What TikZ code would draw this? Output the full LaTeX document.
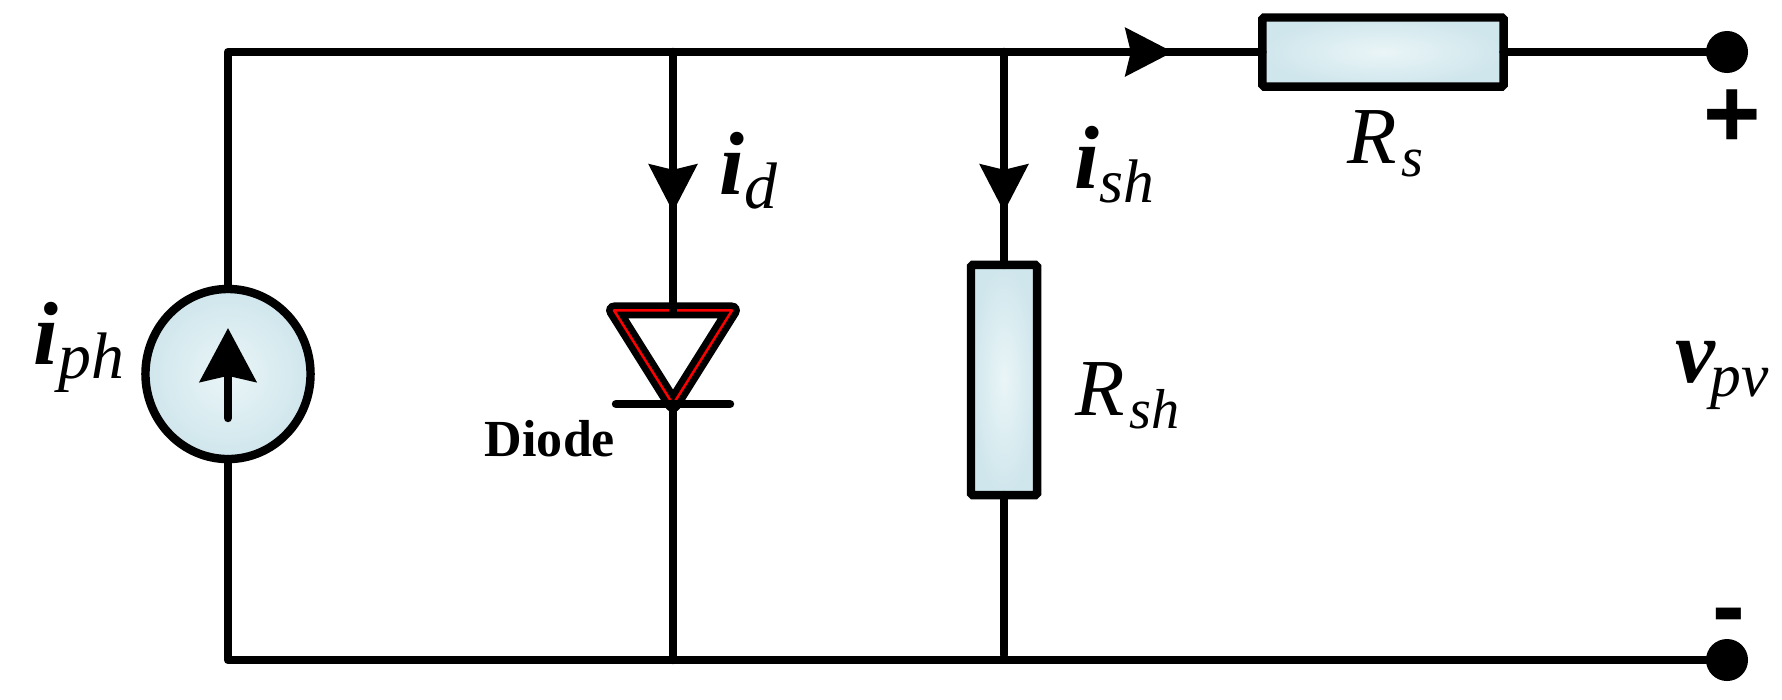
\documentclass[tikz,border=0pt]{standalone}
\usepackage{fontspec}
\setmainfont{Liberation Serif}
\newfontfamily\signfont{Liberation Sans}
\usetikzlibrary{arrows.meta, positioning, shapes.geometric}

\definecolor{cellin}{HTML}{EAF5F7}
\definecolor{cellout}{HTML}{CFE6EC}

\newcommand{\ivar}[3][18]{{\fontsize{25.5}{28}\selectfont\bfseries\itshape #2}\raisebox{-4pt}{\fontsize{#1}{20}\selectfont\itshape #3}}
\newcommand{\rvar}[2]{{\fontsize{23}{26}\selectfont\itshape #1}\kern1.2pt\raisebox{-3.7pt}{\fontsize{16}{20}\selectfont\itshape #2}}

\begin{document}
\begin{tikzpicture}[
  x=0.01cm, y=-0.01cm,
  wire/.style={line width=2.4pt, line cap=round, line join=round},
  arrowW/.style={wire, -{Stealth[inset=1.5pt, length=13.5pt, width=13.6pt]}},
  res/.style={draw, line width=2.4pt, rounded corners=0.5pt, inner sep=0pt, outer sep=0pt,
    inner color=cellin, outer color=cellout},
  dev/.style={draw, ellipse, line width=2.4pt, minimum width=1.65cm, minimum height=1.70cm,
    inner sep=0pt, outer sep=0pt, inner color=cellin, outer color=cellout},
  term/.style={circle, fill=black, minimum size=0.42cm, inner sep=0pt, outer sep=0pt},
  val/.style={anchor=base west, inner sep=0pt}
]
\useasboundingbox (0,0) rectangle (1782,699);

% Corners and junctions
\coordinate (tl) at (228,52);
\coordinate (bl) at (228,660);
\coordinate (jd) at (673,52);
\coordinate (js) at (1004,52);
\coordinate (jdb) at (673,660);
\coordinate (jsb) at (1004,655);

% Arrow tips on the wires
\coordinate (tipT) at (1173,52);
\coordinate (tipD) at (673,212);
\coordinate (tipS) at (1004,212);

% Elements
\node[dev] (src) at (228,374) {};
\node[res, minimum width=0.66cm, minimum height=2.30cm] (rsh) at (1004,380) {};
\node[res, minimum width=2.41cm, minimum height=0.69cm] (rs) at (1383,52) {};
\node[term] (tp) at (1727,52) {};
\node[term] (tn) at (1727,660) {};

% Diode
\node[isosceles triangle, isosceles triangle apex angle=67, isosceles triangle stretches,
  shape border rotate=270, minimum width=1.18cm, minimum height=0.94cm, inner sep=0pt, outer sep=0pt,
  draw=black, line width=1.9pt, double=red, double distance=0.7pt, line join=round, fill=white]
  (diode) at (673,343) {};
\coordinate (dtop) at (673,313);
\coordinate (barL) at (616,404);
\coordinate (barR) at (730,404);
\coordinate (barM) at (673,404);
\draw[wire] (barL) -- (barR);

% Top rail and branches
\draw[wire] (src) -- (tl) -- (jd) -- (js) -- (rs);
\draw[wire] (rs) -- (tp);
\draw[arrowW] (js) -- (tipT);
\draw[wire] (jd) -- (dtop);
\draw[arrowW] (jd) -- (tipD);
\draw[wire] (js) -- (rsh);
\draw[arrowW] (js) -- (tipS);

% Bottom rail
\draw[wire] (src) -- (bl) -- (jdb) -- (tn);
\draw[wire] (barM) -- (jdb);
\draw[wire] (rsh) -- (jsb);

% Source arrow
\coordinate (srcA) at (228,418);
\coordinate (srcB) at (228,328);
\draw[wire, -{Stealth[inset=1.7pt, length=15.3pt, width=16pt]}] (srcA) -- (srcB);

% Labels
\node[val] (liph) at (33,364) {\ivar[18.7]{i}{ph}};
\node[val] (lid) at (719,194) {\ivar[18.7]{i}{d}};
\node[val] (lish) at (1074,188) {\ivar[17.5]{i}{sh}};
\node[val] (lvpv) at (1675,382) {\ivar[17.5]{v}{\kern-1.5pt pv}};
\node[val] (lrs) at (1347,163) {\rvar{R}{s}};
\node[val] (lrsh) at (1075,415) {\rvar{R}{sh}};
\node[font=\bfseries\fontsize{14.8}{16}\selectfont] (ldiode) at (550,439) {Diode};
\node[font=\signfont\bfseries\fontsize{28}{30}\selectfont] (lplus) at (1732,119) {+};
\node[font=\signfont\bfseries\fontsize{28}{30}\selectfont] (lminus) at (1729,624) {-};

\end{tikzpicture}
\end{document}
